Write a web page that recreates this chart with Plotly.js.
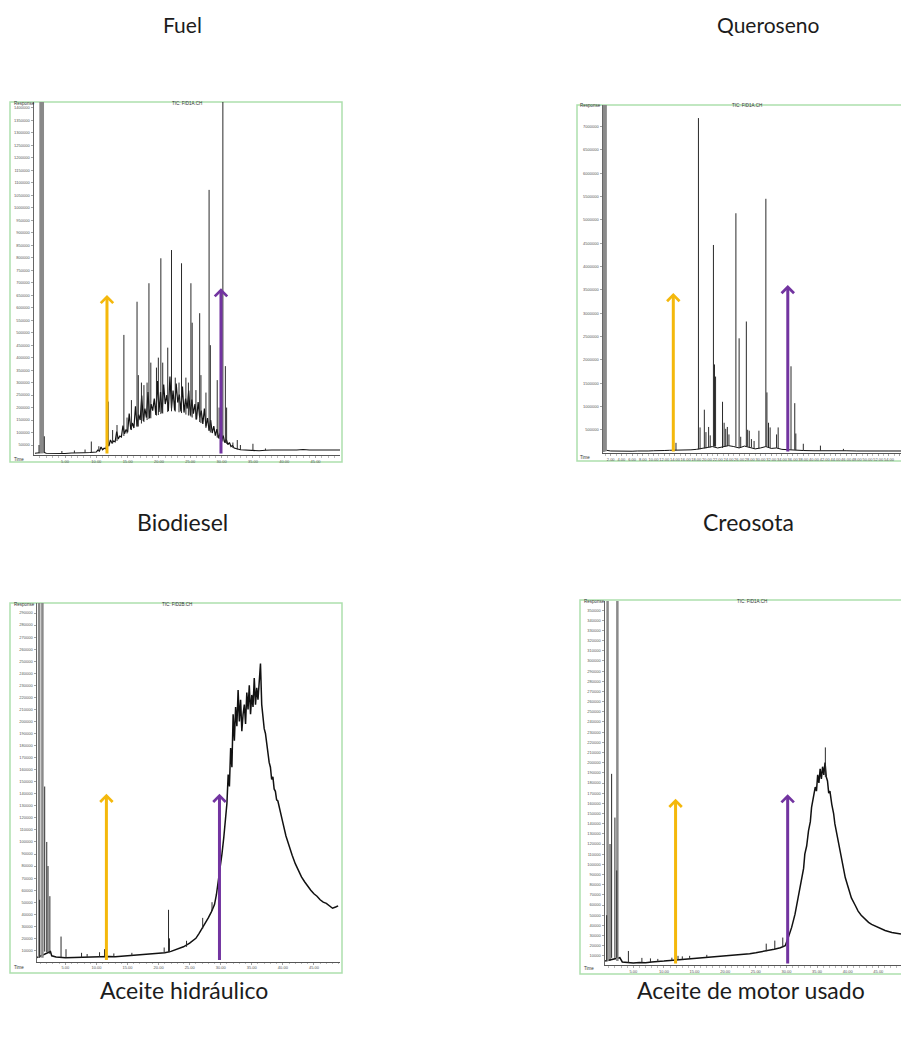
<!DOCTYPE html>
<html><head><meta charset="utf-8">
<script src="https://cdn.plot.ly/plotly-3.0.1.min.js"></script>
<style>html,body{margin:0;padding:0;background:#fff}</style>
</head><body><div id="chart" style="width:901px;height:1047px"></div>
<script>
// ---------- captions ----------
const captions = ["Fuel", "Queroseno", "Biodiesel", "Creosota", "Aceite hidráulico", "Aceite de motor usado"];
const ticTitles = ["TIC: FID1A.CH", "TIC: FID1A.CH", "TIC: FID2B.CH", "TIC: FID1A.CH"];
const respLabel = "Response";
const timeLabel = "Time";

// ---------- Fuel (top-left) ----------
const fuelBaseT = [0.2,1.0,1.6,2.0,3.0,4.0,5.0,6.0,7.0,8.0,9.0,9.5,
 10.0,10.25,10.5,10.75,11.0,11.25,11.5,11.75,12.0,12.25,12.5,12.75,13.0,13.25,13.5,13.75,14.0,14.25,14.5,14.75,
 15.0,15.25,15.5,15.75,16.0,16.25,16.5,16.75,17.0,17.25,17.5,17.75,18.0,18.25,18.5,18.75,19.0,19.25,19.5,19.75,
 20.0,20.25,20.5,20.75,21.0,21.25,21.5,21.75,22.0,22.25,22.5,22.75,23.0,23.25,23.5,23.75,24.0,24.25,24.5,24.75,
 25.0,25.25,25.5,25.75,26.0,26.25,26.5,26.75,27.0,27.25,27.5,27.75,28.0,28.25,28.5,28.75,29.0,29.25,29.5,29.75,
 30.0,30.25,30.5,30.75,31.0,31.25,31.5,31.75,32.0,33.0,34.0,35.0,36.0,37.0,38.0,42.0,43.0,44.0,48.9];
const fuelBaseV = [17000,18000,21000,17000,16000,17000,16000,18000,17000,19000,20000,21000,
 22000,30000,26000,42000,31000,37000,35000,55000,46000,70000,58000,66000,63000,104000,74000,86000,82000,128000,95000,112000,
 101000,176000,112000,138000,118000,205000,126000,172000,150000,248000,146000,196000,160000,262000,158000,214000,188000,236000,170000,306000,
 182000,262000,178000,292000,214000,250000,186000,324000,196000,268000,188000,296000,220000,252000,184000,284000,180000,236000,196000,268000,
 168000,232000,176000,214000,152000,222000,160000,188000,134000,196000,124000,158000,108000,150000,98000,126000,88000,114000,78000,96000,
 68000,88000,60000,72000,52000,60000,44000,48000,38000,31000,29000,28000,27000,29000,30000,30000,32000,30000,30000];
const fuelPeakT = [0.85,1.7,4.5,6.5,8.2,9.2,10.4,11.9,12.6,13.3,14.4,14.9,15.6,16.5,16.7,17.2,17.6,18.1,18.4,18.7,19.6,19.9,20.3,20.6,21.4,22.0,22.6,23.2,23.6,24.3,24.7,25.1,25.3,25.9,26.5,26.7,27.5,28.0,28.2,29.3,29.6,30.2,30.6,30.8,31.8,32.5,33.0,35.0,37.0];
const fuelPeakBase = [17000,21000,16000,18000,19000,20000,25000,45000,56000,66000,86000,96000,110000,122000,124000,136000,142000,150000,154000,157000,168000,170000,174000,176000,182000,185000,184000,181000,178000,172000,168000,164000,160000,152000,142000,138000,118000,106000,100000,80000,74000,64000,58000,55000,38000,32000,30000,28000,29000];
const fuelPeakTop = [50000,85000,26000,28000,32000,64000,45000,224000,110000,130000,491000,160000,230000,624000,330000,300000,290000,300000,698000,380000,360000,400000,798000,380000,440000,831000,320000,300000,778000,320000,300000,698000,540000,270000,578000,330000,260000,1072000,450000,310000,200000,1440000,366000,200000,60000,70000,50000,55000,36000];
const fuelSolventT = [1.1, 1.3, 1.45];
const fuelSolventBase = [17000, 17000, 17000];
const fuelSolventTop = [1440000, 1440000, 1440000];
const fuelArrowT = [11.7, 29.9];
const fuelArrowTop = [651000, 678000];

// ---------- Queroseno (top-right) ----------
const querBaseT = [0.6,1.2,2,3,4,5,6,7,8,9,10,11,12,13,14,15,16,17,18,19,20,21,22,23,24,25,26,27,28,29,30,31,32,33,34,35,36,37,38,40,42,44,46,48,50,52,54,56.3];
const querBaseV = [40000,60000,45000,40000,35000,45000,40000,45000,40000,45000,50000,45000,55000,60000,60000,55000,60000,70000,80000,100000,120000,140000,110000,140000,160000,140000,110000,150000,120000,90000,110000,140000,100000,110000,80000,70000,70000,60000,55000,50000,55000,45000,50000,45000,50000,45000,45000,45000];
const querPeakT = [14.2,18.4,18.7,19.5,19.8,20.3,20.6,21.2,21.4,21.6,22.9,23.2,23.5,23.8,24.1,25.4,26.0,26.3,27.35,27.6,27.9,28.3,28.8,29.7,31.0,31.2,31.5,31.8,33.0,33.3,35.7,36.4,36.6,38.0,41.2,45.5];
const querPeakBase = [60000,80000,80000,100000,100000,120000,120000,140000,140000,140000,110000,130000,140000,150000,160000,140000,110000,120000,150000,140000,130000,120000,100000,100000,140000,140000,120000,110000,110000,100000,70000,70000,65000,55000,50000,50000];
const querPeakTop = [220000,7180000,550000,930000,450000,560000,380000,4460000,1900000,1640000,1100000,650000,520000,560000,400000,5140000,2460000,350000,2820000,500000,480000,300000,260000,480000,5450000,1300000,650000,550000,400000,550000,1860000,1070000,420000,200000,160000,90000];
const querSolventT = [0.7, 0.9, 1.05];
const querSolventBase = [40000, 40000, 40000];
const querSolventTop = [7600000, 7600000, 7600000];
const querArrowT = [13.7, 35.1];
const querArrowTop = [3430000, 3600000];

// ---------- Biodiesel trace (bottom-left) ----------
const bioBaseT = [0.45,2.6,2.8,3.5,5,6,7,8,9,10,11,12,13,14,15,16,17,18,19,20,21,22,23,24,25,26,26.5,27,27.5,28,28.5,29,29.3,29.6,29.9,30.2,30.5,30.7,
 31.0,31.2,31.4,31.6,31.8,32.0,32.2,32.4,32.6,32.8,33.0,33.2,33.4,33.6,33.8,34.0,34.2,34.4,34.6,34.8,35.0,35.2,35.4,35.6,35.8,36.0,36.2,36.4,36.6,36.8,
 37.0,37.2,37.4,37.6,37.8,38.0,38.2,38.4,38.6,38.8,39.0,39.2,39.5,40.0,40.5,41.0,41.5,42.0,42.5,43.0,43.5,44.0,44.5,45.0,45.5,46.0,46.5,47.0,47.5,48.0,48.5,48.9];
const bioBaseV = [4000,9000,5500,4500,4000,4200,4000,4500,4300,4600,5000,5000,4800,5200,5500,5400,5800,6200,6600,7000,8000,9200,11000,13000,16000,20000,24000,28000,32000,37000,42000,48000,56000,66000,78000,90000,104000,114000,
 132000,156000,146000,178000,162000,206000,184000,212000,196000,226000,200000,218000,192000,206000,214000,198000,224000,210000,230000,206000,222000,212000,236000,214000,228000,218000,238000,248000,214000,200000,
 194000,190000,180000,176000,166000,162000,152000,154000,144000,142000,135000,134000,126000,116000,105000,96000,89000,82000,76000,71000,67000,63000,60000,57000,55000,52000,50000,49000,47000,45000,46000,47000];
const bioPeakT = [0.85,1.67,2.0,2.2,2.5,4.3,5.1,7.6,8.5,10.5,11.3,12.8,15.7,20.9,21.6,21.75,24.5,27.1,28.6];
const bioPeakBase = [4000,9000,8500,8000,7000,4300,4000,4000,4500,4600,5000,4800,5500,8000,8500,8500,13000,28000,43000];
const bioPeakTop = [52000,146000,100000,80000,55000,21500,11000,8000,7000,8500,11000,7500,8000,12400,43700,20000,18000,37000,50000];
const bioSolventT = [0.78, 1.3];
const bioSolventBase = [4000, 4000];
const bioSolventTop = [310000, 310000];
const bioArrowT = [11.6, 29.8];
const bioArrowTop = [140000, 140000];

// ---------- Motor oil trace (bottom-right) ----------
const motorBaseT = [0.4,2.8,3.2,4,5,6,7,8,9,10,11,12,13,14,15,16,17,18,19,20,21,22,23,24,25,26,27,28,29,29.8,30.3,30.85,31.4,31.9,32.2,32.5,32.8,33.0,33.3,33.6,33.9,34.1,34.4,34.7,34.9,35.1,35.3,35.5,35.7,35.9,36.1,36.3,36.5,36.7,36.9,37.1,37.4,37.7,37.9,38.2,38.5,38.8,39.0,39.3,39.6,40.1,40.6,41.2,41.7,42.2,42.8,43.4,43.9,45.0,46.1,47.2,48.0,48.7];
const motorBaseV = [5000,8200,4000,3300,3000,3500,3300,4000,4200,4900,5500,6000,6500,7000,7500,8200,8500,9000,9500,10000,10000,10500,11000,12000,13000,14000,15000,16500,18000,20000,28000,38000,51000,67000,74000,87000,96000,110000,118000,133000,142000,156000,165000,176000,172000,188000,180000,194000,184000,196000,188000,200000,186000,182000,170000,172000,159000,150000,140000,130000,120000,110000,104000,96000,87000,77000,67000,60000,54000,50000,46000,43000,41000,38000,35000,33000,32000,31500];
const motorPeakT = [0.65,1.2,1.46,2.0,2.3,4.2,6.4,7.8,9.0,11.3,12.3,13.0,14.2,17.0,26.7,28.1,29.4,36.35];
const motorPeakBase = [5000,5000,8000,8000,8000,3300,3500,3800,4200,5500,6000,6500,7000,8500,14500,16500,18500,186000];
const motorPeakTop = [50000,120000,189000,146000,94000,14800,8000,7500,7000,8200,10000,9500,10000,11000,22000,25000,28000,215000];
const motorSolventT = [0.8, 2.4];
const motorSolventBase = [5000, 5000];
const motorSolventTop = [370000, 370000];
const motorArrowT = [11.9, 30.2];
const motorArrowTop = [164500, 169000];

// ---------- geometry & style (pixels) ----------
const W = 901, H = 1047;
const px = v => v / W;
const py = v => 1 - v / H;
const arrowColors = ["#F4B80C", "#7234A0"];

const panels = [
  {base:[fuelBaseT,fuelBaseV], peaks:[fuelPeakT,fuelPeakBase,fuelPeakTop], solv:[fuelSolventT,fuelSolventBase,fuelSolventTop], arr:[fuelArrowT,fuelArrowTop], hw:1.2,
   g:{x0:34, x1:340, yb:455, yt:102, xr:[0.05,48.9], yr:[10000,1424000], xd:5, yd:50000, frame:[10,102,342,462], resp:[12,104], time:[12,459], tic:[187,103.5]}},
  {base:[querBaseT,querBaseV], peaks:[querPeakT,querPeakBase,querPeakTop], solv:[querSolventT,querSolventBase,querSolventTop], arr:[querArrowT,querArrowTop], hw:1,
   g:{x0:603, x1:901, yb:453, yt:105, xr:[0.56,56.26], yr:[2000,7460000], xd:2, yd:500000, frame:[577,105,910,461], resp:[578,106], time:[578,457.5], tic:[747,106]}},
  {base:[bioBaseT,bioBaseV], peaks:[bioPeakT,bioPeakBase,bioPeakTop], solv:[bioSolventT,bioSolventBase,bioSolventTop], arr:[bioArrowT,bioArrowTop], hw:1.5,
   g:{x0:37, x1:340, yb:961.5, yt:603, xr:[0.43,49.2], yr:[800,298300], xd:5, yd:10000, frame:[10,603,342,973], resp:[12,604], time:[12,967], tic:[177,604]}},
  {base:[motorBaseT,motorBaseV], peaks:[motorPeakT,motorPeakBase,motorPeakTop], solv:[motorSolventT,motorSolventBase,motorSolventTop], arr:[motorArrowT,motorArrowTop], hw:1.5,
   g:{x0:605, x1:901, yb:965, yt:601, xr:[0.38,48.7], yr:[1000,359000], xd:5, yd:10000, frame:[580,600,910,974], resp:[582,601.5], time:[582,968], tic:[752,601.5]}}
];

const captionPos = [[182,25],[768,25],[182,522],[748,522],[184,990],[751,990]];
const captionSize = [21, 21, 23, 23, 23, 23];

function sticks(t, b, top) {
  const xs = [], ys = [];
  const n = Math.min(t.length, b.length, top.length);
  for (let i = 0; i < n; i++) { xs.push(t[i], t[i], null); ys.push(b[i], top[i], null); }
  return [xs, ys];
}

const traces = [];
const layout = {
  width: W, height: H, margin: {l:0, r:0, t:0, b:0},
  paper_bgcolor: "#fff", plot_bgcolor: "#fff", showlegend: false,
  annotations: [], shapes: []
};
const tickFont = {family: "Liberation Sans, Arial, sans-serif", size: 4, color: "#555"};

panels.forEach((p, i) => {
  const k = i === 0 ? "" : String(i + 1);
  const xa = "x" + k, ya = "y" + k;
  const g = p.g;
  traces.push({type:"scatter", mode:"lines", x:p.base[0], y:p.base[1], xaxis:xa, yaxis:ya,
    line:{color:"#111", width:p.hw}, hoverinfo:"skip"});
  const s = sticks(p.solv[0], p.solv[1], p.solv[2]);
  traces.push({type:"scatter", mode:"lines", x:s[0], y:s[1], xaxis:xa, yaxis:ya,
    line:{color:"#8a8a8a", width:2.5}, connectgaps:false, hoverinfo:"skip"});
  const pk = sticks(p.peaks[0], p.peaks[1], p.peaks[2]);
  traces.push({type:"scatter", mode:"lines", x:pk[0], y:pk[1], xaxis:xa, yaxis:ya,
    line:{color:"#2a2a2a", width:1}, connectgaps:false, hoverinfo:"skip"});

  layout["xaxis" + k] = {
    domain:[px(g.x0), Math.min(1, px(g.x1))], range:g.xr, anchor:ya,
    showline:true, linecolor:"#555", linewidth:1, mirror:false,
    ticks:"outside", ticklen:2, tickwidth:0.6, tickcolor:"#666",
    tick0:0, dtick:g.xd, tickformat:".2f", tickangle:0, tickfont:tickFont,
    minor:{dtick:1, ticks:"outside", ticklen:1.5, tickcolor:"#777", tickwidth:0.5},
    showgrid:false, zeroline:false, fixedrange:true
  };
  layout["yaxis" + k] = {
    domain:[py(g.yb), py(g.yt)], range:g.yr, anchor:xa,
    showline:true, linecolor:"#666", linewidth:1.5,
    ticks:"outside", ticklen:2, tickwidth:0.6, tickcolor:"#666",
    tick0:0, dtick:g.yd, tickformat:"d", tickfont:tickFont,
    showgrid:false, zeroline:false, fixedrange:true
  };
  layout.shapes.push({type:"rect", xref:"paper", yref:"paper",
    x0:px(g.frame[0]), x1:px(g.frame[2]), y0:py(g.frame[3]), y1:py(g.frame[1]),
    line:{color:"#ade0ad", width:1.5}, fillcolor:"rgba(0,0,0,0)", layer:"below"});
  layout.annotations.push({xref:"paper", yref:"paper", x:px(g.resp[0]), y:py(g.resp[1]), xanchor:"left", yanchor:"middle",
    text:respLabel, showarrow:false, font:{family:"Liberation Sans, Arial", size:4.5, color:"#333"}});
  layout.annotations.push({xref:"paper", yref:"paper", x:px(g.time[0]), y:py(g.time[1]), xanchor:"left", yanchor:"middle",
    text:timeLabel, showarrow:false, font:{family:"Liberation Sans, Arial", size:4.5, color:"#333"}});
  layout.annotations.push({xref:"paper", yref:"paper", x:px(g.tic[0]), y:py(g.tic[1]), xanchor:"center", yanchor:"middle",
    text:ticTitles[i], showarrow:false, font:{family:"Liberation Sans, Arial", size:4.5, color:"#333"}});
  p.arr[0].forEach((t, j) => {
    layout.annotations.push({xref:xa, yref:ya, axref:xa, ayref:ya, x:t, y:p.arr[1][j], ax:t, ay:g.yr[0],
      text:"", showarrow:true, arrowhead:4, arrowsize:0.8, arrowwidth:3, arrowcolor:arrowColors[j],
      standoff:0, startstandoff:0});
  });
});

captions.forEach((c, i) => {
  layout.annotations.push({xref:"paper", yref:"paper", x:px(captionPos[i][0]), y:py(captionPos[i][1]),
    xanchor:"center", yanchor:"middle", text:c, showarrow:false,
    font:{family:"Lato, Open Sans, sans-serif", size:captionSize[i], color:"#1c1c1c"}});
});

Plotly.newPlot("chart", traces, layout, {staticPlot:true, displayModeBar:false});
</script></body></html>
